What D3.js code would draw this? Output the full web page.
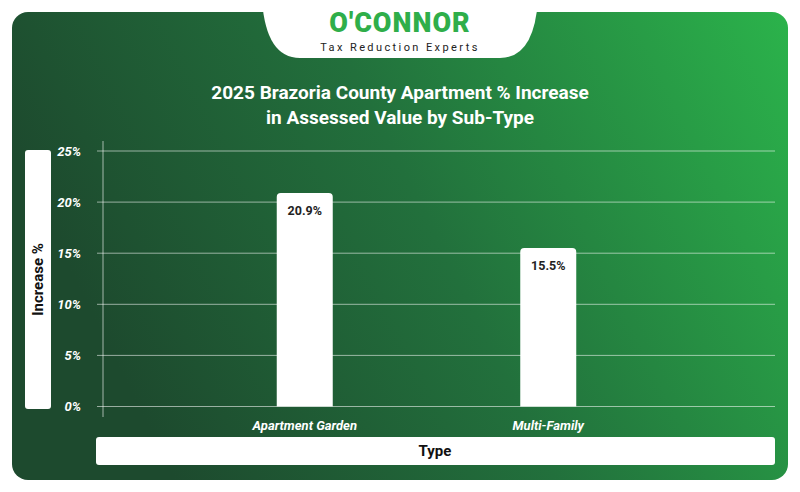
<!DOCTYPE html>
<html><head><meta charset="utf-8">
<script src="https://cdn.jsdelivr.net/npm/d3@7"></script>
<style>body{margin:0;background:#fff}svg{display:block;font-family:Roboto,sans-serif}</style>
</head><body><svg id="c" width="800" height="492"></svg>
<script>
const categories = ["Apartment Garden", "Multi-Family"];
const values = [20.9, 15.5];
const yTicks = [0, 5, 10, 15, 20, 25];

const svg = d3.select("#c");
const defs = svg.append("defs");
const g1 = defs.append("linearGradient").attr("id","bg").attr("x1","0").attr("y1","0.3").attr("x2","1").attr("y2","0");
g1.append("stop").attr("offset","0").attr("stop-color","#1d4a2e");
g1.append("stop").attr("offset","0.45").attr("stop-color","#22703c");
g1.append("stop").attr("offset","1").attr("stop-color","#2bb34b");
svg.append("rect").attr("x",12).attr("y",12).attr("width",776).attr("height",468).attr("rx",16).attr("fill","url(#bg)");

// logo tab
svg.append("path").attr("d","M262,0 H538 V0 Q534,58 500,58 H300 Q266,58 262,0 Z").attr("fill","#fff");
svg.append("text").attr("x",400).attr("y",32).attr("text-anchor","middle").attr("font-size",27).attr("font-weight",900)
  .attr("fill","#2fae4a").attr("letter-spacing",1).text("O'CONNOR");
svg.append("text").attr("x",400).attr("y",51).attr("text-anchor","middle").attr("font-size",11)
  .attr("fill","#222").attr("letter-spacing",2.4).text("Tax Reduction Experts");

// title
svg.append("text").attr("x",400).attr("y",99).attr("text-anchor","middle").attr("font-size",19).attr("font-weight",700).attr("fill","#fff").text("2025 Brazoria County Apartment % Increase");
svg.append("text").attr("x",400).attr("y",124).attr("text-anchor","middle").attr("font-size",19).attr("font-weight",700).attr("fill","#fff").text("in Assessed Value by Sub-Type");

const y = d3.scaleLinear().domain([0,25]).range([406.5,151]);
const x = d3.scaleBand().domain(categories).range([183,670]).paddingInner(0.77).paddingOuter(0.385);

svg.append("g").selectAll("line").data(yTicks).join("line")
  .attr("x1",97).attr("x2",775).attr("y1",d=>y(d)).attr("y2",d=>y(d))
  .attr("stroke","rgba(255,255,255,0.55)").attr("stroke-width",1);
svg.append("line").attr("x1",103).attr("x2",103).attr("y1",141).attr("y2",417).attr("stroke","rgba(255,255,255,0.6)");

const yAxis = d3.axisLeft(y).tickValues(yTicks).tickFormat(d=>d+"%").tickSize(0);
const ya = svg.append("g").attr("transform","translate(84,0)").call(yAxis);
ya.select(".domain").remove();
ya.selectAll("text").attr("fill","#fff").attr("font-size",13).attr("font-style","italic").attr("font-weight",700).attr("font-family","Roboto");

svg.append("g").selectAll("path").data(values).join("path")
  .attr("d",(d,i)=>{const x0=x(categories[i]),w=x.bandwidth(),t=y(d),b=y(0),r=4;
    return `M${x0},${b}V${t+r}Q${x0},${t} ${x0+r},${t}H${x0+w-r}Q${x0+w},${t} ${x0+w},${t+r}V${b}Z`;})
  .attr("fill","#fff");
svg.append("g").selectAll("text").data(values).join("text")
  .attr("x",(d,i)=>x(categories[i])+x.bandwidth()/2).attr("y",d=>y(d)+22)
  .attr("text-anchor","middle").attr("font-size",12.5).attr("font-weight",700).attr("fill","#222").text(d=>d+"%");

const xa = svg.append("g").attr("transform","translate(0,418)").call(d3.axisBottom(x).tickSize(0));
xa.select(".domain").remove();
xa.selectAll("text").attr("fill","#fff").attr("font-size",13).attr("font-style","italic").attr("font-weight",700).attr("font-family","Roboto").attr("dy","0.7em");

svg.append("rect").attr("x",25).attr("y",150).attr("width",26).attr("height",259).attr("rx",3).attr("fill","#fff");
svg.append("text").attr("transform","translate(43,279.5) rotate(-90)").attr("text-anchor","middle").attr("font-size",15).attr("font-weight",700).attr("fill","#111").text("Increase %");
svg.append("rect").attr("x",96).attr("y",437).attr("width",679).attr("height",28).attr("rx",3).attr("fill","#fff");
svg.append("text").attr("x",435).attr("y",456).attr("text-anchor","middle").attr("font-size",15).attr("font-weight",700).attr("fill","#111").text("Type");
</script></body></html>
